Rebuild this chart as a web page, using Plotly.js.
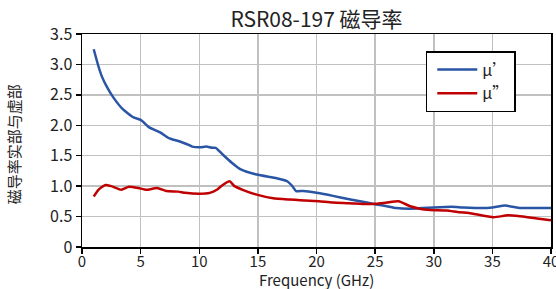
<!DOCTYPE html>
<html><head><meta charset="utf-8">
<script src="https://cdn.plot.ly/plotly-3.0.1.min.js"></script>
<style>html,body{margin:0;padding:0;background:#fff}#c{width:556px;height:289px}</style>
</head><body><div id="c"></div>
<script>
const freqReal = [1.0,1.4,1.7,2.1,2.7,3.5,4.4,5.0,5.25,5.7,6.7,7.4,8.4,9.2,9.4,10.1,10.6,11.1,11.4,12.0,12.8,13.5,14.9,16.6,17.5,17.9,18.25,18.9,20.0,21.4,22.9,24.3,25.1,26.0,26.8,28.0,29.0,30.0,31.5,32.5,34.2,35.0,36.1,37.4,38.5,40];
const muReal = [3.25,2.97,2.80,2.64,2.45,2.26,2.13,2.09,2.05,1.97,1.88,1.79,1.73,1.67,1.65,1.64,1.65,1.63,1.63,1.52,1.38,1.28,1.19,1.13,1.08,1.01,0.92,0.92,0.89,0.84,0.78,0.73,0.70,0.67,0.64,0.63,0.64,0.65,0.66,0.65,0.64,0.65,0.68,0.64,0.64,0.64];
const freqImag = [1.0,1.4,2.0,2.5,3.35,4.0,4.8,5.5,6.4,7.2,8.2,8.8,10.0,10.9,11.5,12.0,12.6,13.0,13.7,14.9,16.3,17.7,18.6,20.2,21.4,22.8,24.3,25.1,26.0,27.0,28.0,28.8,29.7,31.1,32.2,33.0,35.1,36.3,37.2,38.8,40];
const muImag = [0.83,0.94,1.02,1.00,0.94,0.99,0.97,0.94,0.97,0.92,0.91,0.89,0.875,0.89,0.94,1.02,1.08,1.00,0.94,0.86,0.80,0.78,0.77,0.75,0.73,0.72,0.705,0.71,0.73,0.75,0.67,0.63,0.61,0.60,0.57,0.56,0.49,0.52,0.51,0.47,0.44];
const seriesNames = ["μ’", "μ”"];
const yTickVals = [0,0.5,1.0,1.5,2.0,2.5,3.0,3.5];
const yTickText = ["0","0.5","1.0","1.5","2.0","2.5","3.0","3.5"];
const xTickVals = [0,5,10,15,20,25,30,35,40];
const xTickText = ["0","5","10","15","20","25","30","35","40"];
const xTitle = 'Frequency (GHz)';
const yTitle = '磁导率实部与虚部';
const chartTitle = 'RSR08-197 磁导率';

const FONT = '"Noto Sans CJK SC", "Noto Sans", sans-serif';
const traces = [
  {x: freqReal, y: muReal, name: seriesNames[0], mode: 'lines',
   line: {color: '#2a55a5', width: 2.5, shape: 'spline', smoothing: 0.5}},
  {x: freqImag, y: muImag, name: seriesNames[1], mode: 'lines',
   line: {color: '#c00000', width: 2.5, shape: 'spline', smoothing: 0.5}}
];
const layout = {
  width: 556, height: 289,
  margin: {l: 82, r: 5, t: 34, b: 42},
  paper_bgcolor: '#fff', plot_bgcolor: '#fff',
  font: {family: FONT, color: '#222', size: 15},
  title: {text: chartTitle, font: {family: FONT, size: 21, color: '#222'},
          x: 0.5, xref: 'paper', xanchor: 'center', y: 1 - 20/289, yref: 'container', yanchor: 'middle'},
  xaxis: {range: [0, 40], tickvals: xTickVals, ticktext: xTickText,
          showgrid: true, gridcolor: '#c0c0c0', gridwidth: 1.5,
          showline: true, linecolor: '#000', linewidth: 1.5, mirror: true,
          ticks: 'outside', ticklen: 5, tickwidth: 1.5, tickcolor: '#000',
          tickfont: {family: FONT, size: 15, color: '#222'},
          ticklabeloverflow: 'allow', ticklabelstandoff: -5,
          zeroline: false},
  yaxis: {range: [0, 3.5], tickvals: yTickVals, ticktext: yTickText,
          showgrid: true, gridcolor: '#c0c0c0', gridwidth: 1.5,
          showline: true, linecolor: '#000', linewidth: 1.5, mirror: true,
          ticks: 'outside', ticklen: 5, tickwidth: 1.5, tickcolor: '#000',
          tickfont: {family: FONT, size: 16, color: '#222'},
          zeroline: false},
  annotations: [
    {text: xTitle, xref: 'paper', yref: 'paper', x: 0.5, y: -0.152, xanchor: 'center', yanchor: 'middle',
     showarrow: false, font: {family: FONT, size: 15, color: '#222'}},
    {text: yTitle, xref: 'paper', yref: 'paper', x: -0.146, y: 0.48, xanchor: 'center', yanchor: 'middle',
     textangle: -90, showarrow: false, font: {family: FONT, size: 15, color: '#222'}}
  ],
  showlegend: true,
  legend: {x: 0.733, y: 0.92, xanchor: 'left', yanchor: 'top',
           bordercolor: '#000', borderwidth: 1.5, bgcolor: '#fff',
           font: {family: FONT, size: 16, color: '#222'},
           indentation: 5, itemwidth: 40, tracegroupgap: 4}
};
Plotly.newPlot('c', traces, layout, {displayModeBar: false, staticPlot: true});
</script></body></html>
